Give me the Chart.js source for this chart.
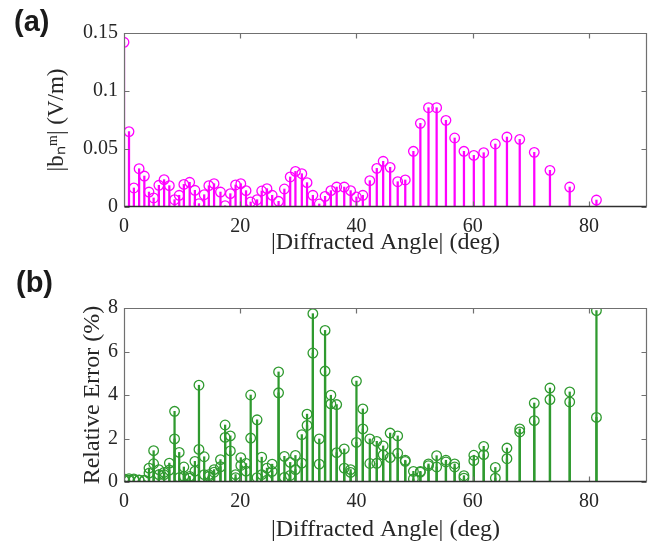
<!DOCTYPE html>
<html><head><meta charset="utf-8">
<script src="https://cdn.jsdelivr.net/npm/chart.js@4/dist/chart.umd.min.js"></script>
<style>
html,body{margin:0;padding:0;background:#fff;}
#wrap{position:relative;width:660px;height:548px;overflow:hidden;background:#fff;}
.panel{position:absolute;left:0;width:660px;}
#pa{top:0;height:270px;}
#pb{top:270px;height:278px;}
.lab{position:absolute;font-family:'Liberation Sans',Arial,sans-serif;font-weight:bold;font-size:29px;color:#1a1a1a;line-height:1;}
</style></head>
<body><div id="wrap">
<div class="panel" id="pa"><canvas id="ca"></canvas></div>
<div class="panel" id="pb"><canvas id="cb"></canvas></div>
<div class="lab" style="left:14px;top:7px">(a)</div>
<div class="lab" style="left:16px;top:268px">(b)</div>
</div>
<script>
// |Diffracted Angle| (deg) of each diffraction order
const angles = [0, 0.86, 1.7, 2.6, 3.5, 4.3, 5.1, 6.0, 6.9, 7.8, 8.7, 9.5, 10.3, 11.3, 12.2, 12.9, 13.8, 14.6, 15.5, 16.6,
  17.4, 18.3, 19.2, 20.1, 21.0, 21.8, 22.9, 23.7, 24.6, 25.5, 26.6, 27.6, 28.6, 29.5, 30.6, 31.5, 32.5, 33.6, 34.6, 35.6,
  36.6, 37.9, 39.0, 40.0, 41.1, 42.3, 43.5, 44.6, 45.8, 47.1, 48.4, 49.8, 51.0, 52.4, 53.8, 55.4, 56.9, 58.5, 60.2, 61.9,
  63.9, 65.9, 68.1, 70.6, 73.3, 76.7, 81.3];
// (a) |b_n^m| (V/m)
const fieldAmp = [0.142, 0.065, 0.0164, 0.033, 0.0267, 0.0129, 0.0078, 0.0187, 0.0236, 0.0184, 0.0063, 0.0101, 0.0195, 0.0213, 0.0144, 0.0029, 0.0106, 0.0184, 0.0201, 0.0129,
  0.0011, 0.0115, 0.019, 0.0201, 0.0141, 0.0043, 0.0063, 0.0138, 0.0158, 0.0101, 0.0049, 0.0155, 0.0259, 0.0307, 0.0287, 0.021, 0.0101, 0.0026, 0.0092, 0.0141,
  0.0172, 0.0172, 0.0141, 0.0086, 0.0101, 0.0227, 0.0333, 0.0394, 0.0342, 0.0218, 0.0233, 0.048, 0.0721, 0.0856, 0.0856, 0.0747, 0.0595, 0.048, 0.0445, 0.0468,
  0.0543, 0.0603, 0.0583, 0.0471, 0.0316, 0.0172, 0.006];
// (b) Relative Error (%) — upper and lower markers on each stem
const errHigh = [0.14, 0.15, 0.14, 0.10, 0.08, 0.64, 1.44, 0.57, 0.44, 0.87, 3.25, 1.36, 0.69, 0.26, 0.95, 4.45, 1.16, 0.34, 0.57, 1.03,
  2.62, 2.12, 0.34, 1.12, 0.85, 4.0, 2.86, 1.14, 0.64, 0.82, 5.06, 1.18, 0.9, 1.22, 2.18, 3.12, 7.74, 1.98, 6.97, 3.99,
  3.56, 1.52, 0.57, 4.64, 3.36, 1.98, 1.87, 1.66, 2.25, 2.12, 1.0, 0.49, 0.49, 0.83, 1.21, 1.0, 0.83, 0.29, 1.23, 1.64,
  0.67, 1.56, 2.44, 3.63, 4.32, 4.14, 7.88];
const errLow = [0.08, 0.08, 0.10, 0.08, 0.06, 0.41, 0.84, 0.34, 0.34, 0.55, 1.98, 0.2, 0.26, 0.18, 0.5, 1.5, 0.34, 0.26, 0.45, 0.7,
  2.05, 1.43, 0.2, 0.76, 0.5, 2.02, 0.2, 0.34, 0.08, 0.49, 4.1, 0.21, 0.3, 0.57, 0.87, 2.6, 5.93, 0.82, 5.1, 3.59,
  1.35, 0.64, 0.44, 1.82, 2.44, 0.85, 0.86, 1.25, 1.12, 1.32, 0.95, 0.14, 0.45, 0.75, 0.69, 0.92, 0.69, 0.18, 0.98, 1.26,
  0.18, 1.07, 2.3, 2.82, 3.79, 3.68, 2.97];
const xTickValues = [0, 20, 40, 60, 80];
const yTicksA = [0, 0.05, 0.1, 0.15];
const yTicksB = [0, 2, 4, 6, 8];

const MAG = '#ff00ff';
const GRN = '#2f9a2f';
const BOXC = '#707070';
const TXT = '#262626';
const SERIF = "'Liberation Serif','Times New Roman',serif";

const boxTicks = {
  id: 'boxTicks',
  afterDraw(chart) {
    const ctx = chart.ctx;
    const a = chart.chartArea;
    const x = chart.scales.x, y = chart.scales.y;
    const L = Math.round(a.left) + 0.5, R = Math.round(a.right) - 0.5;
    const T = Math.round(a.top) + 0.5, B = Math.round(a.bottom) - 0.5;
    ctx.save();
    ctx.lineWidth = 1.2;
    ctx.strokeStyle = BOXC;
    ctx.beginPath();
    ctx.moveTo(L, B); ctx.lineTo(L, T); ctx.lineTo(R, T); ctx.lineTo(R, B);
    const tl = 5;
    for (const t of x.ticks) {
      const px = Math.round(x.getPixelForValue(t.value)) + 0.5;
      ctx.moveTo(px, B); ctx.lineTo(px, B - tl);
      ctx.moveTo(px, T); ctx.lineTo(px, T + tl);
    }
    for (const t of y.ticks) {
      const py = Math.round(y.getPixelForValue(t.value)) + 0.5;
      ctx.moveTo(L, py); ctx.lineTo(L + tl, py);
      ctx.moveTo(R, py); ctx.lineTo(R - tl, py);
    }
    ctx.stroke();
    // baseline at zero
    ctx.strokeStyle = '#303030';
    ctx.lineWidth = 1.4;
    ctx.beginPath();
    ctx.moveTo(L, B); ctx.lineTo(R, B);
    ctx.stroke();
    ctx.restore();
  }
};

function makeChart(el, cfg) {
  const {datasets, yTicks, yMax, yTitle, yTitleSize, topPad, areaBottom, canvasH, xTitlePad, yTitlePad} = cfg;
  return new Chart(el, {
    type: 'bar',
    data: {datasets},
    plugins: [boxTicks],
    options: {
      responsive: true,
      maintainAspectRatio: false,
      animation: false,
      events: [],
      layout: {padding: {top: topPad, right: 13, left: 0, bottom: 0}},
      plugins: {legend: {display: false}, tooltip: {enabled: false}},
      scales: {
        x: {
          type: 'linear', min: 0, max: 90, offset: false,
          afterBuildTicks: s => { s.ticks = xTickValues.map(v => ({value: v})); },
          afterFit: s => { s.height = canvasH - areaBottom; },
          grid: {display: false, drawTicks: false},
          border: {display: false},
          ticks: {font: {family: SERIF, size: 20}, color: TXT, padding: 8, maxRotation: 0,
                  callback: v => String(v)},
          title: {display: true, text: '|Diffracted Angle| (deg)', font: {family: SERIF, size: 24},
                  color: TXT, padding: {top: 0, bottom: xTitlePad}}
        },
        y: {
          type: 'linear', min: 0, max: yMax,
          afterBuildTicks: s => { s.ticks = yTicks.map(v => ({value: v})); },
          afterFit: s => { s.width = 124; },
          grid: {display: false, drawTicks: false},
          border: {display: false},
          ticks: {font: {family: SERIF, size: 20}, color: TXT, padding: 6,
                  callback: v => String(v)},
          title: {display: true, text: yTitle, font: {family: SERIF, size: yTitleSize},
                  color: TXT, padding: {top: yTitlePad, bottom: 0}}
        }
      }
    }
  });
}

const ptsA = angles.map((a, i) => ({x: a, y: fieldAmp[i]}));
const ptsHi = angles.map((a, i) => ({x: a, y: errHigh[i]}));
const ptsLo = angles.map((a, i) => ({x: a, y: errLow[i]}));

const circle = (data, color) => ({
  type: 'scatter', data, showLine: false, order: 1,
  pointRadius: 4.8, pointBorderWidth: 1.3, pointBorderColor: color,
  pointBackgroundColor: 'rgba(0,0,0,0)'
});
const stems = (data, color) => ({
  type: 'bar', data, order: 2, backgroundColor: color, barThickness: 1.6, grouped: false
});

makeChart(document.getElementById('ca'), {
  datasets: [stems(ptsA, MAG), circle(ptsA, MAG)],
  yTicks: yTicksA, yMax: 0.15, yTitle: '|b\u2099\u1D50| (V/m)', yTitleSize: 23,
  topPad: 33, areaBottom: 207, canvasH: 270, xTitlePad: 13, yTitlePad: 43
});
makeChart(document.getElementById('cb'), {
  datasets: [stems(ptsHi, GRN), stems(ptsLo, GRN), circle(ptsHi, GRN), circle(ptsLo, GRN)],
  yTicks: yTicksB, yMax: 8, yTitle: 'Relative Error (%)', yTitleSize: 24,
  topPad: 38, areaBottom: 212, canvasH: 278, xTitlePad: 4, yTitlePad: 78
});
</script>
</body></html>
